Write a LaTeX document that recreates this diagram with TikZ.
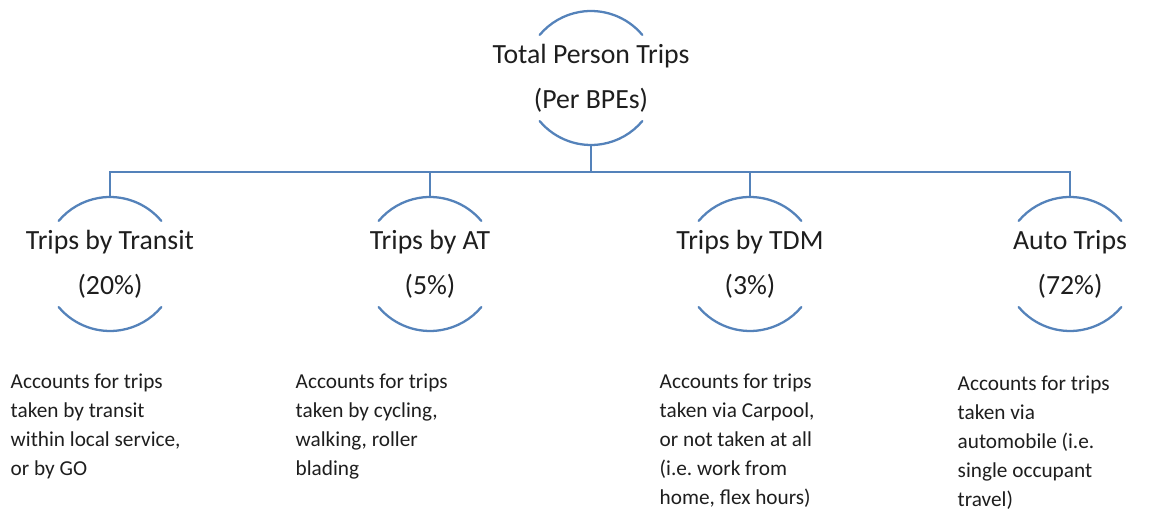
\documentclass[tikz,border=0pt]{standalone}
\usepackage{fontspec}
\setmainfont{Carlito}
\usepackage{tikz}
\usetikzlibrary{positioning}
\definecolor{linkblue}{RGB}{84,130,186}
\definecolor{inkgray}{RGB}{30,30,30}
\frenchspacing

\begin{document}
\begin{tikzpicture}
		\tikzstyle{Ring}	= [circle, minimum size=1.34cm, inner sep=0pt, outer sep=0pt]
		\tikzstyle{Head}	= [align=center, inner sep=0pt, text=inkgray, font=\fontsize{7.9}{12.8}\selectfont]
		\tikzstyle{Note}	= [align=left, anchor=north west, inner sep=0pt, text=inkgray, font=\fontsize{6.05}{8.25}\selectfont]
		\tikzstyle{Link}	= [linkblue, line width=0.65pt]
		\tikzstyle{Cap}		= [Link, line cap=round]

		\useasboundingbox (0,0) rectangle (11.69,5.14);

		% top of the tree
		\node (total) at (5.91, 4.36) [Ring] {};
		\node (totaltext) at (total) [Head] {Total Person Trips\\(Per BPEs)};

		% four shares
		\node (transit) at (1.10, 2.50) [Ring] {};
		\node (at)      at (4.30, 2.50) [Ring] {};
		\node (tdm)     at (7.50, 2.50) [Ring] {};
		\node (auto)    at (10.70, 2.50) [Ring] {};

		\node (transittext) at (transit) [Head] {Trips by Transit\\(20\%)};
		\node (attext)      at (at)      [Head] {Trips by AT\\(5\%)};
		\node (tdmtext)     at (tdm)     [Head] {Trips by TDM\\(3\%)};
		\node (autotext)    at (auto)    [Head] {Auto Trips\\(72\%)};

		% arcs round each title
		\foreach \n in {total, transit, at, tdm, auto} {
			\draw [Cap] (\n.40) arc[start angle=40, end angle=140, radius=0.67cm];
			\draw [Cap] (\n.220) arc[start angle=220, end angle=320, radius=0.67cm];
		}

		% connectors
		\coordinate (bar) at (5.91, 3.42);
		\draw [Link] (total.south) -- (bar);
		\draw [Link] (transit.north) |- (bar) -| (auto.north);
		\draw [Link] (at.north) -- (at.north |- bar);
		\draw [Link] (tdm.north) -- (tdm.north |- bar);

		% notes
		\node (transitnote) at (0.10, 1.41) [Note] {Accounts for trips\\taken by transit\\within local service,\\or by GO};
		\node (atnote)      at (2.95, 1.41) [Note] {Accounts for trips\\taken by cycling,\\walking, roller\\blading};
		\node (tdmnote)     at (6.59, 1.41) [Note] {Accounts for trips\\taken via Carpool,\\or not taken at all\\(i.e. work from\\home, flex hours)};
		\node (autonote)    at (9.57, 1.39) [Note] {Accounts for trips\\taken via\\automobile (i.e.\\single occupant\\travel)};
	\end{tikzpicture}
\end{document}
